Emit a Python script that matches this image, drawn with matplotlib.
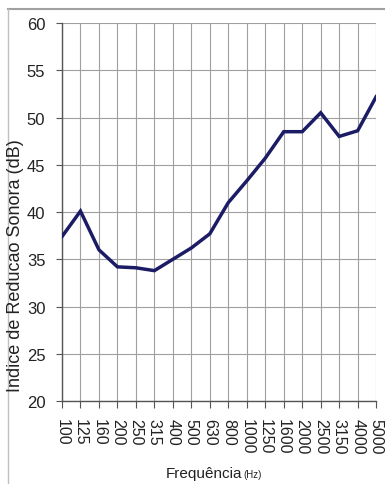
import matplotlib
matplotlib.use("Agg")
import matplotlib.pyplot as plt
from matplotlib.lines import Line2D

freqs = ["100", "125", "160", "200", "250", "315", "400", "500", "630", "800",
         "1000", "1250", "1600", "2000", "2500", "3150", "4000", "5000"]
values = [37.4, 40.1, 36.0, 34.2, 34.1, 33.8, 35.0, 36.2, 37.7, 41.0,
          43.3, 45.7, 48.5, 48.5, 50.5, 48.0, 48.6, 52.2]
yticks = [20, 25, 30, 35, 40, 45, 50, 55, 60]

plt.rcParams['font.family'] = ['Liberation Sans', 'DejaVu Sans']

fig = plt.figure(figsize=(3.85, 4.85), dpi=100)
fig.patch.set_facecolor('white')
ax = fig.add_axes([0.161, 0.171, 0.816, 0.7795])

x = list(range(len(freqs)))
ax.plot(x, values, color='#1c1c66', lw=2.5, solid_joinstyle='miter', zorder=3)

ax.set_xlim(0, len(freqs) - 1)
ax.set_ylim(20, 60)
ax.set_xticks(x)
ax.set_xticklabels(freqs, rotation=-90, fontsize=11.5, color='#222222')
ax.set_yticks(yticks)
ax.set_yticklabels([str(v) for v in yticks], fontsize=12, color='#222222')
ax.grid(True, color='#a0a0a0', lw=0.8)
ax.set_axisbelow(True)
for s in ['top', 'right']:
    ax.spines[s].set_visible(False)
for s in ['left', 'bottom']:
    ax.spines[s].set_color('#555555')
    ax.spines[s].set_linewidth(1.0)
ax.tick_params(axis='y', length=4, width=0.8, color='#555555', pad=8)
ax.tick_params(axis='x', length=5, width=0.8, color='#555555', pad=7)

fig.text(16 / 385, 1 - 266 / 485, "Indice de Reducao Sonora (dB)", fontsize=13,
         color='#222222', rotation=90, ha='center', va='center')

fig.text(0.628, 0.014, "Frequência", fontsize=11, color='#222222', ha='right', va='baseline')
fig.text(0.633, 0.014, "(Hz)", fontsize=7, color='#222222', ha='left', va='baseline')

# outer frame lines
fig.add_artist(Line2D([0.021, 1.0], [0.979, 0.979], color='#a0a0a0', lw=1.5, transform=fig.transFigure))
fig.add_artist(Line2D([0.021, 0.021], [0.0, 0.979], color='#c0c0c0', lw=1.0, transform=fig.transFigure))

fig.savefig("out.png", dpi=100, facecolor='white')
